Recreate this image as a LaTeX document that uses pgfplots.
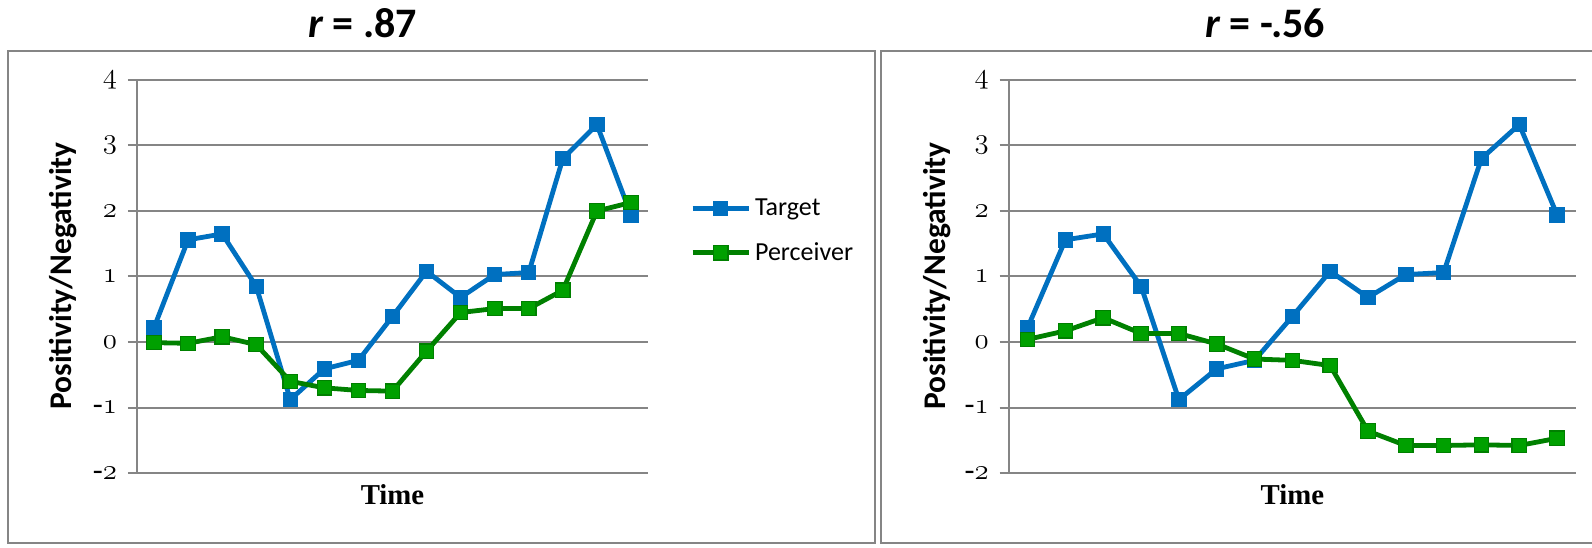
\documentclass[border=0pt]{standalone}
\usepackage{fontspec}
\setmainfont{Carlito}
\newfontfamily\serif{Liberation Serif}
\usepackage{pgfplots}
\usepackage{pgfplotstable}
\pgfplotsset{compat=1.18}
\newcommand\osf[1]{{\usefont{OML}{cmm}{m}{it}#1}}
\newcommand\tl[1]{{\fontsize{15}{15}\selectfont\osf{#1}}}
\newcommand\tlm[1]{{\fontsize{15}{15}\selectfont{\serif -}\osf{#1}}}
\definecolor{tblue}{HTML}{0070C0}
\definecolor{pgreenl}{HTML}{008000}
\definecolor{pgreenf}{HTML}{00A000}
\definecolor{gridc}{HTML}{858585}

\pgfplotstableread{
t target percL percR
1  0.22 -0.01  0.04
2  1.56 -0.02  0.17
3  1.65  0.08  0.37
4  0.85 -0.04  0.13
5 -0.88 -0.60  0.13
6 -0.41 -0.70 -0.03
7 -0.28 -0.74 -0.26
8  0.39 -0.75 -0.28
9  1.08 -0.14 -0.36
10 0.68  0.45 -1.36
11 1.03  0.51 -1.58
12 1.06  0.51 -1.58
13 2.80  0.79 -1.57
14 3.32  2.00 -1.58
15 1.94  2.13 -1.47
}\data

\pgfplotsset{
  myaxis/.style={
    scale only axis, height=196.5pt,
    xmin=0.5, xmax=15.5, ymin=-2, ymax=4,
    ytick={-2,-1,0,1,2,3,4},
    yticklabels={\tlm{2},\tlm{1},\tl{0},\tl{1},\tl{2},\tl{3},\tl{4}},
    yticklabel style={xshift=-2pt},
    xtick=\empty,
    axis x line*=bottom, axis y line*=left,
    axis line style={gridc, line width=1pt, -},
    ymajorgrids, grid style={gridc, line width=1pt},
    tick align=outside, major tick length=4.5pt,
    tick style={gridc, line width=1pt},
    clip=false,
  },
  target/.style={tblue, line width=2.4pt, mark=square*, mark size=3.6pt,
    mark options={fill=tblue, draw=tblue, line width=0.5pt, solid}},
  perc/.style={pgreenl, line width=2.4pt, mark=square*, mark size=3.6pt,
    mark options={fill=pgreenf, draw=pgreenl, line width=0.6pt, solid}},
}

\begin{document}
\begin{tikzpicture}
\path[use as bounding box] (0,0) rectangle (796pt,273.5pt);
% panel frames
\draw[gridc, line width=0.8pt] (4pt,2pt) rectangle (437.5pt,248pt);
\draw[gridc, line width=0.8pt] (800pt,248pt) -- (440.5pt,248pt) -- (440.5pt,2pt) -- (800pt,2pt);
% titles
\node[anchor=base, font=\fontsize{21}{21}\selectfont\bfseries] at (181.25pt,254.5pt) {\textit{r} = .87};
\node[anchor=base, font=\fontsize{21}{21}\selectfont\bfseries] at (632.5pt,254.5pt) {\textit{r} = -.56};
% y labels
\node[rotate=90, font=\fontsize{15.75}{15.75}\selectfont\bfseries] at (31.5pt,135.5pt) {Positivity/Negativity};
\node[rotate=90, font=\fontsize{15.75}{15.75}\selectfont\bfseries] at (468.5pt,135.5pt) {Positivity/Negativity};
% x labels
\node[anchor=base, font=\fontsize{14.4}{14.4}\selectfont\serif\bfseries] at (196.25pt,21.5pt) {Time};
\node[anchor=base, font=\fontsize{14.4}{14.4}\selectfont\serif\bfseries] at (646.2pt,21.5pt) {Time};

\begin{axis}[myaxis, width=255.5pt, at={(68.5pt,37pt)}, anchor=south west,
  legend style={at={(1.082,0.616)}, anchor=west, draw=none, fill=none,
    font=\fontsize{13}{15.6}\selectfont, row sep=8pt, inner sep=0pt},
  legend cell align=left,
  legend image code/.code={\draw[mark repeat=2,mark phase=2,#1] plot coordinates {(0pt,0pt)(14pt,0pt)(28pt,0pt)};},
]
\addplot[target] table[x=t, y=target] {\data};
\addlegendentry{Target}
\addplot[perc] table[x=t, y=percL] {\data};
\addlegendentry{Perceiver}
\end{axis}

\begin{axis}[myaxis, width=283.65pt, at={(504.35pt,37pt)}, anchor=south west]
\addplot[target] table[x=t, y=target] {\data};
\addplot[perc] table[x=t, y=percR] {\data};
\end{axis}
\end{tikzpicture}
\end{document}
